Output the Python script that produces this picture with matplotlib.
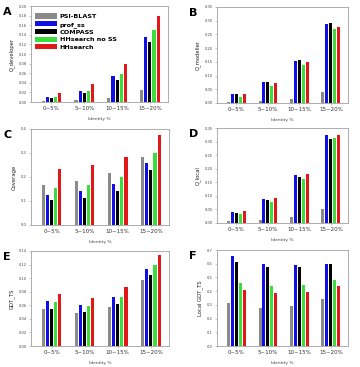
import numpy as np
import matplotlib
matplotlib.use("Agg")
import matplotlib.pyplot as plt

# Identity bins and methods
groups = ["0~5%", "5~10%", "10~15%", "15~20%"]
methods = ["PSI-BLAST", "prof_ss", "COMPASS", "HHsearch no SS", "HHsearch"]
colors = ["#8a8a8a", "#1010e6", "#000000", "#3ddc3d", "#e01818"]

# values per method, one entry per identity bin
q_developer = [
    [0.003, 0.004, 0.008, 0.024],
    [0.010, 0.023, 0.054, 0.136],
    [0.008, 0.019, 0.046, 0.126],
    [0.010, 0.023, 0.059, 0.151],
    [0.019, 0.037, 0.080, 0.179],
]
q_modeller = [
    [0.004, 0.006, 0.016, 0.041],
    [0.034, 0.076, 0.154, 0.288],
    [0.032, 0.076, 0.156, 0.293],
    [0.023, 0.061, 0.137, 0.270],
    [0.034, 0.072, 0.148, 0.278],
]
coverage = [
    [0.165, 0.185, 0.215, 0.285],
    [0.123, 0.140, 0.172, 0.259],
    [0.103, 0.112, 0.143, 0.231],
    [0.155, 0.166, 0.201, 0.301],
    [0.235, 0.249, 0.284, 0.375],
]
q_local = [
    [0.009, 0.011, 0.022, 0.051],
    [0.042, 0.089, 0.177, 0.323],
    [0.037, 0.084, 0.169, 0.308],
    [0.032, 0.077, 0.163, 0.312],
    [0.046, 0.092, 0.181, 0.324],
]
gdt_ts = [
    [0.054, 0.048, 0.057, 0.097],
    [0.067, 0.061, 0.072, 0.113],
    [0.054, 0.050, 0.062, 0.105],
    [0.065, 0.059, 0.072, 0.119],
    [0.076, 0.071, 0.087, 0.134],
]
local_gdt_ts = [
    [0.317, 0.278, 0.293, 0.341],
    [0.654, 0.600, 0.590, 0.598],
    [0.610, 0.578, 0.576, 0.595],
    [0.463, 0.434, 0.444, 0.480],
    [0.410, 0.383, 0.395, 0.437],
]

panels = [
    ("A", q_developer, "Q_developer", 0.20, 0.02, "%.2f"),
    ("B", q_modeller, "Q_modeller", 0.35, 0.05, "%.2f"),
    ("C", coverage, "Coverage", 0.4, 0.1, "%.1f"),
    ("D", q_local, "Q_local", 0.35, 0.05, "%.2f"),
    ("E", gdt_ts, "GDT_TS", 0.14, 0.02, "%.2f"),
    ("F", local_gdt_ts, "Local GDT_TS", 0.7, 0.1, "%.1f"),
]

fig = plt.figure(figsize=(3.6, 3.67), dpi=100)
W, H = 360, 367
# axes boxes in pixels: left, top, right, bottom
boxes = [
    (31, 6, 168, 102), (217, 7, 348, 103),
    (31, 129, 169, 225), (217, 128, 348, 223),
    (31, 251, 169, 346), (217, 250, 348, 346),
]

x = np.arange(len(groups))
step, width = 0.125, 0.095
frame = "#a0a0a0"

for (letter, data, ylabel, ymax, ystep, fmt), (l, t, r, b) in zip(panels, boxes):
    ax = fig.add_axes([l / W, 1 - b / H, (r - l) / W, (b - t) / H])
    for i, (vals, c) in enumerate(zip(data, colors)):
        ax.bar(x + (i - 2) * step, vals, width, color=c, label=methods[i],
               edgecolor="none")
    ax.set_xlim(-0.62, 3.55)
    ax.set_ylim(0, ymax)
    ticks = np.arange(0, ymax + ystep / 2, ystep)
    ax.set_yticks(ticks)
    ax.set_yticklabels([fmt % v for v in ticks], fontsize=2.6, color="#444444")
    ax.set_xticks(x)
    ax.set_xticklabels(groups, fontsize=4, color="#333333")
    ax.tick_params(axis="both", length=1.5, width=0.4, pad=1.5, color=frame)
    for s in ax.spines.values():
        s.set_color(frame)
        s.set_linewidth(0.6)
    ax.set_xlabel("Identity %", fontsize=3.2, color="#444444", labelpad=4)
    ax.set_ylabel(ylabel, fontsize=3.8, color="#222222", labelpad=3)
    fig.text((l - 28) / W, 1 - (t + 6) / H, letter, fontsize=8,
             fontweight="bold", ha="left", va="center")
    if letter == "A":
        ax.legend(loc="upper left", frameon=False,
                  prop={"weight": "bold", "size": 4.6},
                  handlelength=3.4, handleheight=0.9, handletextpad=0.4,
                  labelspacing=0.25, borderaxespad=0.3,
                  bbox_to_anchor=(0.0, 0.97))

fig.savefig("out.png", dpi=100)
